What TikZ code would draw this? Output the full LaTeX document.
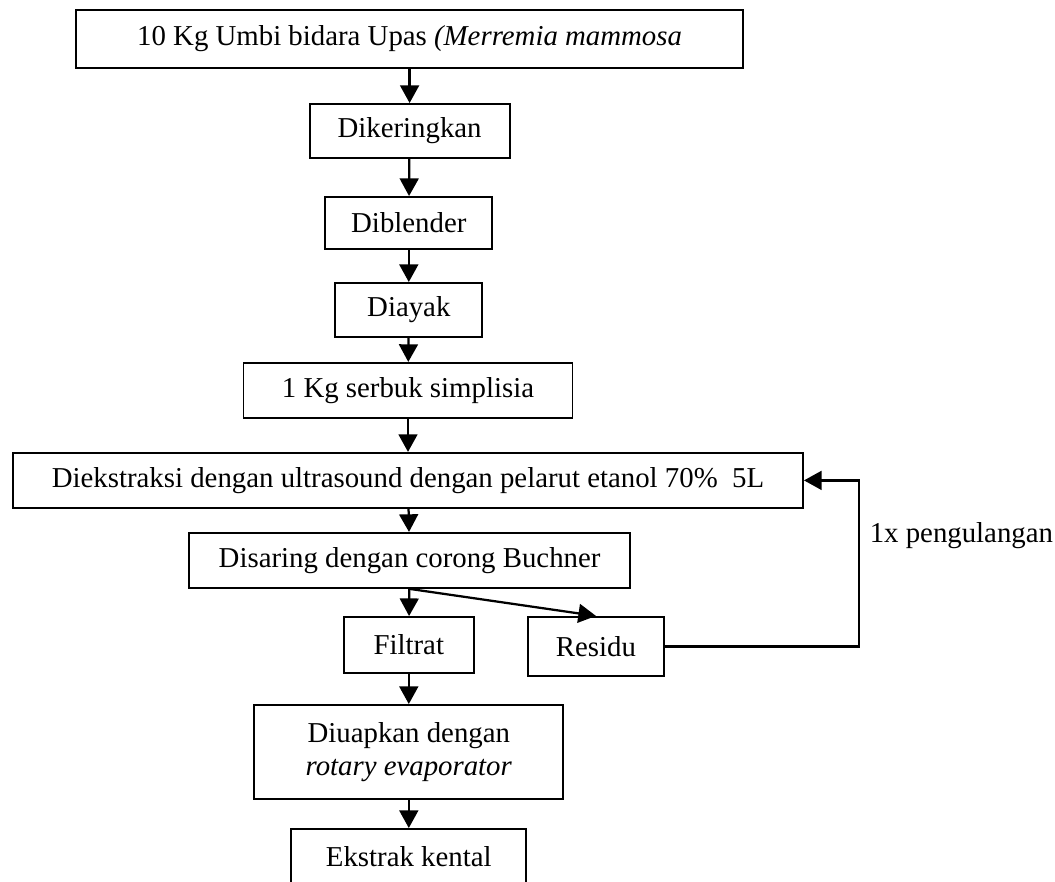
\documentclass[tikz,border=0pt]{standalone}
\usepackage{fontspec}
\setmainfont{Liberation Serif}
\usetikzlibrary{positioning, arrows.meta}

\begin{document}
\begin{tikzpicture}[
  box/.style={draw, line width=1.4pt, inner sep=0pt, align=center,
              font=\fontsize{20.5}{24}\selectfont},
  flow/.style={-{Triangle[width=0.47cm, length=0.44cm]}, line width=1.6pt},
  >=Stealth
]
  \useasboundingbox (0,0) rectangle (26.375,-22.05);

  % Nodes
  \node[box, minimum width=16.675cm, minimum height=1.45cm] (umbi) at (10.24,-0.975)
    {10 Kg Umbi bidara Upas \textit{(Merremia mammosa}};
  \node[box, minimum width=5cm, minimum height=1.35cm] (kering) at (10.24,-3.275)
    {Dikeringkan};
  \node[box, minimum width=4.175cm, minimum height=1.3cm] (blender) at (10.22,-5.575)
    {Diblender};
  \node[box, minimum width=3.675cm, minimum height=1.35cm] (ayak) at (10.22,-7.75)
    {Diayak};
  \node[box, minimum width=8.225cm, minimum height=1.375cm] (serbuk) at (10.2,-9.76)
    {1 Kg serbuk simplisia};
  \node[box, minimum width=19.75cm, minimum height=1.375cm] (ekstraksi) at (10.2,-12.01)
    {Diekstraksi dengan ultrasound dengan pelarut etanol 70\%\ \ 5L};
  \node[box, minimum width=11.025cm, minimum height=1.375cm] (saring) at (10.24,-14.01)
    {Disaring dengan corong Buchner};
  \node[box, minimum width=3.25cm, minimum height=1.4cm] (filtrat) at (10.22,-16.125)
    {Filtrat};
  \node[box, minimum width=3.4cm, minimum height=1.475cm] (residu) at (14.9,-16.16)
    {Residu};
  \node[box, minimum width=7.725cm, minimum height=2.35cm] (uap) at (10.22,-18.8)
    {Diuapkan dengan\\\textit{rotary evaporator}};
  \node[box, minimum width=5.875cm, minimum height=1.4cm] (kental) at (10.22,-21.425)
    {Ekstrak kental};
  \coordinate (balik) at (21.475,-16.16);

  % Edges
  \draw[flow] (umbi) -- (kering);
  \draw[flow] (kering) -- (blender);
  \draw[flow] (blender) -- (ayak);
  \draw[flow] (ayak) -- (serbuk);
  \draw[flow] (serbuk) -- (ekstraksi);
  \draw[flow] (ekstraksi) -- (saring);
  \draw[flow] (saring) -- (filtrat);
  \draw[flow] (saring.south) -- (residu.north);
  \draw[flow] (filtrat) -- (uap);
  \draw[flow] (uap) -- (kental);
  \draw[flow] (residu.east) -- (balik) |- (ekstraksi.east);

  % Labels
  \node[anchor=west, font=\fontsize{20.5}{24}\selectfont] (ulang) at (21.62,-13.38)
    {1x pengulangan};
\end{tikzpicture}
\end{document}
